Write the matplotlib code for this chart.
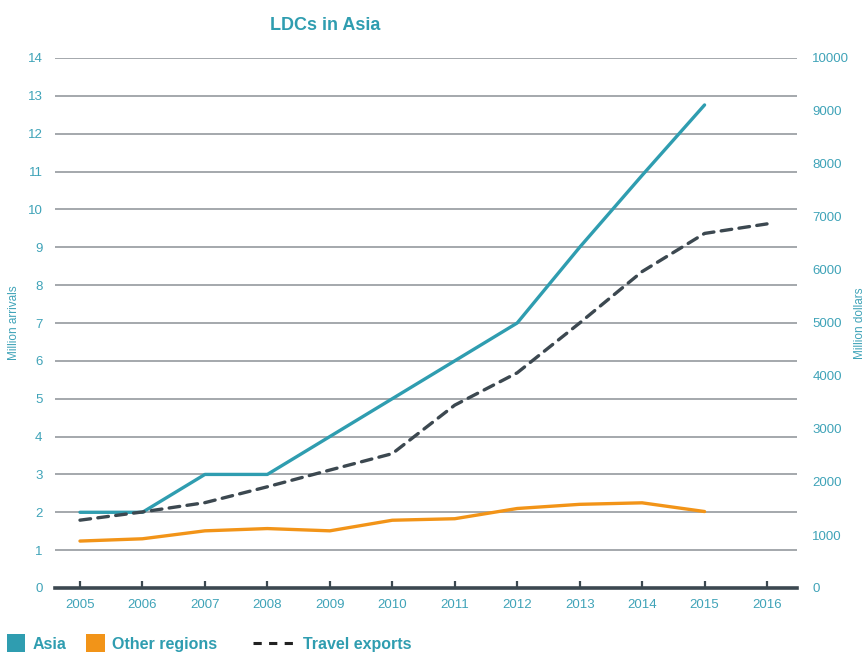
import matplotlib
matplotlib.use("Agg")
import matplotlib.pyplot as plt
from matplotlib.patches import Patch
from matplotlib.lines import Line2D

plt.rcParams['font.family'] = ['Liberation Sans', 'DejaVu Sans']

years = [2005, 2006, 2007, 2008, 2009, 2010, 2011, 2012, 2013, 2014, 2015, 2016]
asia_arrivals = [2.0, 2.0, 3.0, 3.0, 4.0, 5.0, 6.0, 7.0, 9.0, 10.9, 12.76]
other_arrivals = [1.24, 1.30, 1.51, 1.57, 1.51, 1.79, 1.83, 2.10, 2.21, 2.25, 2.02]
travel_exports = [1280, 1435, 1610, 1910, 2225, 2535, 3450, 4060, 5000, 5970, 6690, 6870]

left_ticks = list(range(0, 15))
right_ticks = list(range(0, 10001, 1000))

TEAL = '#2F9DB0'
LABEL = '#3FA3B8'
ORANGE = '#F29418'
DARK = '#3C4850'
GRID = '#8C9196'

fig = plt.figure(figsize=(8.65, 6.53), dpi=100)
ax = fig.add_axes([55 / 865, 1 - 588 / 653, (797 - 55) / 865, (588 - 58) / 653])
ax2 = ax.twinx()

ax.set_ylim(0, 14)
ax.set_xlim(2004.6, 2016.48)
ax2.set_ylim(0, 10000)

ax.set_yticks(left_ticks)
ax.grid(axis='y', color=GRID, linewidth=1.1)
ax.set_axisbelow(True)
ax.set_xticks(years)
ax.set_xticklabels([str(y) for y in years])

for a in (ax, ax2):
    for side in ('left', 'right', 'top', 'bottom'):
        a.spines[side].set_visible(False)
ax.spines['bottom'].set_visible(True)
ax.spines['bottom'].set_color(DARK)
ax.spines['bottom'].set_linewidth(2.6)
ax.spines['bottom'].set_zorder(5)

ax.tick_params(axis='x', direction='in', length=5, width=1.6, color=DARK,
               labelcolor=LABEL, labelsize=9.5, pad=8)
ax.tick_params(axis='y', length=0, labelcolor=LABEL, labelsize=9.5, pad=9)
ax2.set_yticks(right_ticks)
ax2.tick_params(axis='y', length=0, labelcolor=LABEL, labelsize=9.5, pad=11)

ax.plot(years[:len(asia_arrivals)], asia_arrivals, color=TEAL, linewidth=2.4,
        solid_capstyle='round', zorder=3)
ax.plot(years[:len(other_arrivals)], other_arrivals, color=ORANGE, linewidth=2.4,
        solid_capstyle='round', zorder=3)
ax2.plot(years, travel_exports, color=DARK, linewidth=2.4, dashes=(3.2, 2.2),
         dash_capstyle='round', zorder=3)

ax.set_ylabel('Million arrivals', color=LABEL, fontsize=8.5)
ax.yaxis.set_label_coords((20 - 55) / 742, 0.5)
ax2.set_ylabel('Million dollars', color=LABEL, fontsize=8.5)
ax2.yaxis.set_label_coords((854 - 55) / 742, 0.5)

fig.text(325 / 865, 1 - 25 / 653, 'LDCs in Asia', color=TEAL, fontsize=13,
         fontweight='bold', ha='center', va='center')

legend_font = {'weight': 'bold', 'size': 11.5}

patch_leg = fig.legend(
    [Patch(facecolor=TEAL, edgecolor='none'), Patch(facecolor=ORANGE, edgecolor='none')],
    ['Asia', 'Other regions'],
    loc='lower left', bbox_to_anchor=(7 / 865, 0.001), ncol=2, frameon=False,
    handlelength=1.15, handleheight=1.35, handletextpad=0.45, columnspacing=1.25,
    borderaxespad=0.0, borderpad=0.0, prop=legend_font)
for t in patch_leg.get_texts():
    t.set_color(TEAL)

line_leg = fig.legend(
    [Line2D([], [], color='#222222', linewidth=2.2, dashes=(2.7, 2.4))],
    ['Travel exports'],
    loc='lower left', bbox_to_anchor=(253 / 865, 0.002), frameon=False,
    handlelength=2.5, handletextpad=0.6, borderaxespad=0.0, borderpad=0.0,
    prop=legend_font)
for t in line_leg.get_texts():
    t.set_color(TEAL)

fig.savefig('out.png', dpi=100)
